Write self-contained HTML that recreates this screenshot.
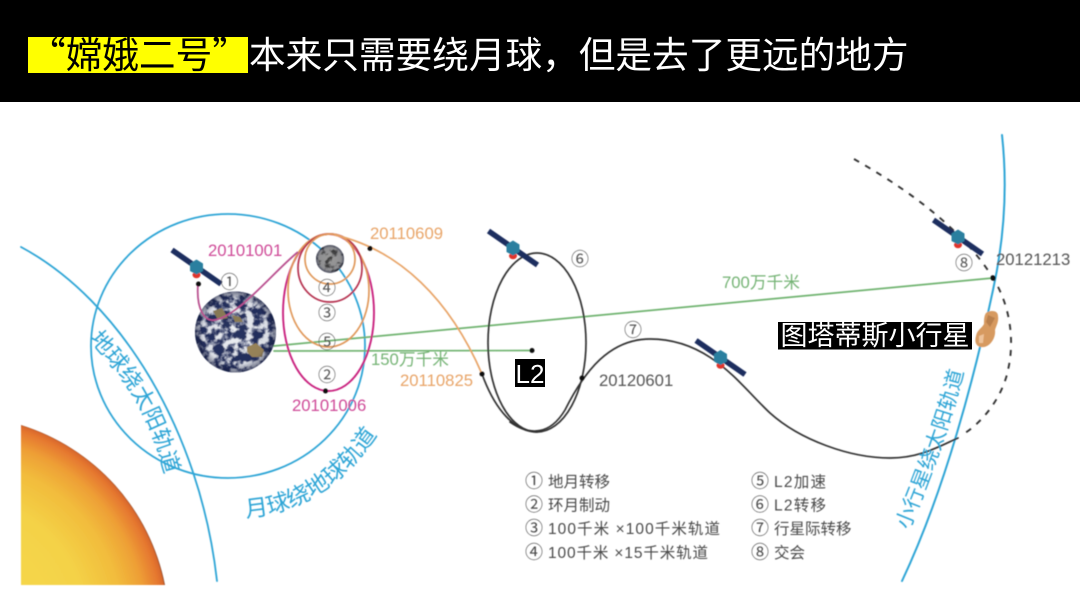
<!DOCTYPE html>
<html lang="zh-CN"><head><meta charset="utf-8">
<style>
html,body{margin:0;padding:0;background:#fff;width:1080px;height:597px;overflow:hidden}
svg{display:block}
.c{font-family:"Noto Sans CJK SC",sans-serif}
.l{font-family:"Liberation Sans","Noto Sans CJK SC",sans-serif}
.n{font-family:"Noto Sans CJK SC",sans-serif;font-size:18px;fill:#555;text-anchor:middle}
.leg{font-family:"Liberation Sans","Noto Sans CJK SC",sans-serif;font-size:15.5px;fill:#4a4a4a}
.cn{font-size:18px}
.blue{font-family:"Noto Sans CJK SC",sans-serif;fill:#2fa5d6}
</style></head><body>
<svg width="1080" height="597" viewBox="0 0 1080 597" xmlns="http://www.w3.org/2000/svg">
<defs>
<radialGradient id="sun" gradientUnits="userSpaceOnUse" cx="-41" cy="625" r="210">
<stop offset="0" stop-color="#f6dc50"/><stop offset=".6" stop-color="#f4d247"/><stop offset=".78" stop-color="#f2bc3c"/><stop offset=".89" stop-color="#ee9f36"/><stop offset=".97" stop-color="#e5772f"/><stop offset=".993" stop-color="#d9682c"/><stop offset="1" stop-color="#6a3a2c"/>
</radialGradient>
<radialGradient id="limb" cx=".5" cy=".5" r=".5">
<stop offset="0" stop-color="#000" stop-opacity="0"/><stop offset=".8" stop-color="#0a1030" stop-opacity=".08"/><stop offset="1" stop-color="#0a1030" stop-opacity=".55"/>
</radialGradient>
<filter id="clouds" x="0" y="0" width="100%" height="100%" color-interpolation-filters="sRGB">
<feTurbulence type="fractalNoise" baseFrequency=".13" numOctaves="5" seed="11"/>
<feColorMatrix values="0 0 0 0 .93  0 0 0 0 .94  0 0 0 0 .96  4.500 0 0 0 -1.900"/>
<feGaussianBlur stdDeviation=".35"/>
</filter>
<filter id="maria" x="0" y="0" width="100%" height="100%" color-interpolation-filters="sRGB">
<feTurbulence type="fractalNoise" baseFrequency=".16" numOctaves="3" seed="8"/>
<feColorMatrix values="0 0 0 0 .25  0 0 0 0 .25  0 0 0 0 .25  6 0 0 0 -3.100"/>
</filter>
<filter id="b0"><feGaussianBlur stdDeviation=".45"/></filter>
<clipPath id="ec"><circle cx="235.500" cy="332" r="40.500"/></clipPath>
<clipPath id="mc"><circle cx="330" cy="259" r="14"/></clipPath>
<g id="sat">
<path d="M-24.500 -17 L24.500 17" stroke="#1f2d5e" stroke-width="5.500"/>
<ellipse cx="0" cy="8" rx="4" ry="3.200" fill="#e0352b"/>
<path d="M0 -7.500 L6.500 -3.500 L6.500 4 L0 7.500 L-6.500 4 L-6.500 -3.500Z" fill="#2b7f9f"/>
</g>
</defs>

<rect width="1080" height="597" fill="#fff"/>

<g filter="url(#b0)">
<!-- sun -->
<path d="M21 425 A210 210 0 0 1 165 585 L21 585 Z" fill="url(#sun)"/>

<g fill="none" stroke-linecap="round">
<!-- blue orbits -->
<path d="M21 247 C120 300 200 430 217 581" stroke="#2fa5d6" stroke-width="1.800"/>
<ellipse cx="228" cy="346" rx="137" ry="132" stroke="#2fa5d6" stroke-width="1.800"/>
<path d="M1002 135 C1008 190 1004 240 993 290 C975 375 945 490 902 581" stroke="#2fa5d6" stroke-width="2"/>

<!-- green lines -->
<path d="M274 346 L993 278" stroke="#6fb36f" stroke-width="1.700"/>
<path d="M274 351 L532 350.500" stroke="#6fb36f" stroke-width="1.700"/>

<!-- lunar orbits -->
<ellipse cx="328.500" cy="312.500" rx="45.500" ry="78.500" stroke="#c9247f" stroke-width="1.900"/>
<ellipse cx="328.500" cy="290.500" rx="40.500" ry="56.500" stroke="#e0985a" stroke-width="1.700"/>
<ellipse cx="330" cy="268" rx="32" ry="34" stroke="#b5304f" stroke-width="1.700"/>
<ellipse cx="330" cy="259" rx="25" ry="25" stroke="#e0985a" stroke-width="1.700"/>

<!-- transfer -->
<path d="M335 235 C400 250 450 300 482 374" stroke="#e8a468" stroke-width="1.700"/>

<!-- L2 orbit -->
<ellipse cx="537" cy="342.500" rx="49" ry="89.500" stroke="#333" stroke-width="1.700"/>
<path d="M482 374 C495 410 515 432 537 432" stroke="#333" stroke-width="1.700"/>
<path d="M510 422 C530 436 550 435 565 410 C585 370 610 339 650 339 C710 339 740 385 770 413 C800 440 850 458 890 458 C920 458 940 446 958 438" stroke="#333" stroke-width="1.700"/>
<path d="M854 159 C900 185 960 225 993 278 C1010 305 1015 340 1008 370 C1003 395 985 420 965 433" stroke="#333" stroke-width="1.900" stroke-dasharray="6 7" stroke-linecap="butt"/>
</g>

<!-- earth -->
<circle cx="235.500" cy="332" r="40.500" fill="#26315f"/>
<g clip-path="url(#ec)">
<rect x="195" y="291" width="82" height="82" filter="url(#clouds)"/>
<path d="M247 347 L256 343 L264 350 L262 357 L252 357 L247 352Z" fill="#a08a5c"/>
<path d="M213 311 L222 308 L228 318 L218 320Z" fill="#8f8057"/>
<path d="M232 315 L240 317 L243 322 L235 322Z" fill="#8f8057"/>
</g>
<circle cx="235.500" cy="332" r="40.500" fill="url(#limb)"/>
<path d="M198 284 C196 310 205 322 215 320 C240 315 275 270 298 252" fill="none" stroke="#b9508f" stroke-width="1.800"/>

<!-- moon -->
<circle cx="330" cy="259" r="14" fill="#9a9a9a"/>
<g clip-path="url(#mc)"><rect x="316" y="245" width="28" height="28" filter="url(#maria)"/></g>
<circle cx="330" cy="259" r="14" fill="url(#limb)"/>

<!-- asteroid -->
<path d="M986 313 C990 310 998 310 998 316 C999 322 996 326 995 330 C996 337 991 346 984 347 C977 348 974 343 976 336 C977 330 982 328 984 324 C984 320 984 316 986 313Z" fill="#d79a60"/>
<path d="M988 315 L995 318 L990 327 L986 322Z" fill="#b9804e"/>
<path d="M979 336 L984 334 L983 343 L979 343Z" fill="#eec39a"/>

<!-- satellites -->
<use href="#sat" transform="translate(196.500 267)"/>
<use href="#sat" transform="translate(513 248)"/>
<use href="#sat" transform="translate(720.500 357.500)"/>
<use href="#sat" transform="translate(958 237)"/>

<!-- dots -->
<g fill="#111">
<circle cx="198.500" cy="284" r="2.500"/><circle cx="325.500" cy="391" r="2.500"/><circle cx="370" cy="248.500" r="2.500"/>
<circle cx="482" cy="374" r="2.500"/><circle cx="582" cy="378" r="2.500"/><circle cx="532" cy="350.500" r="2.500"/><circle cx="993" cy="278" r="2.700"/>
</g>

<!-- labels -->
<g class="l" font-size="16.700">
<text x="208" y="256" fill="#cf4a97">20101001</text>
<text x="292" y="411" fill="#cf4a97">20101006</text>
<text x="370" y="239" fill="#e8a468">20110609</text>
<text x="400" y="386" fill="#e8a468">20110825</text>
<text x="599" y="386" fill="#555">20120601</text>
<text x="996" y="265" fill="#555">20121213</text>
<text x="371" y="365" fill="#74b374">150万千米</text>
<text x="722" y="288" fill="#74b374">700万千米</text>
</g>

<text class="n" x="229.500" y="288.500">①</text>
<text class="n" x="327" y="294.500">④</text>
<text class="n" x="327" y="319.500">③</text>
<text class="n" x="327" y="348.500">⑤</text>
<text class="n" x="327" y="381.500">②</text>
<text class="n" x="580" y="265.500">⑥</text>
<text class="n" x="633" y="336.500">⑦</text>
<text class="n" x="964" y="269.500">⑧</text>

<!-- curved labels -->
<path id="p1" d="M89 339 C110 365 145 395 164 472" fill="none"/>
<path id="p2" d="M246 517 Q330 512 384 424" fill="none"/>
<path id="p3" d="M909 530 C925 490 950 430 966 362" fill="none"/>
<text class="blue" font-size="22.500"><textPath href="#p1" startOffset="0">地球绕太阳轨道</textPath></text>
<text class="blue" font-size="23"><textPath href="#p2" startOffset="0">月球绕地球轨道</textPath></text>
<text class="blue" font-size="21"><textPath href="#p3" startOffset="0">小行星绕太阳轨道</textPath></text>

<!-- legend -->
<g class="leg">
<text class="cn" x="525" y="487.500">①</text><text x="548" y="487">地月转移</text>
<text class="cn" x="525" y="511">②</text><text x="548" y="510.500">环月制动</text>
<text class="cn" x="525" y="534.500">③</text><text x="548" y="534" textLength="172" lengthAdjust="spacing">100千米 ×100千米轨道</text>
<text class="cn" x="525" y="558.500">④</text><text x="548" y="558" textLength="160" lengthAdjust="spacing">100千米 ×15千米轨道</text>
<text class="cn" x="751" y="487.500">⑤</text><text x="774" y="487" textLength="52" lengthAdjust="spacing">L2加速</text>
<text class="cn" x="751" y="511">⑥</text><text x="774" y="510.500" textLength="52" lengthAdjust="spacing">L2转移</text>
<text class="cn" x="751" y="534.500">⑦</text><text x="774" y="534">行星际转移</text>
<text class="cn" x="751" y="558.500">⑧</text><text x="774" y="558">交会</text>
</g>
</g>

<!-- black labels -->
<rect x="515" y="359" width="30" height="28" fill="#000"/>
<text class="l" x="530" y="383" font-size="26" fill="#fff" text-anchor="middle">L2</text>
<rect x="778" y="322" width="194" height="27.500" fill="#000"/>
<text class="c" x="875" y="345" font-size="27" fill="#fff" text-anchor="middle">图塔蒂斯小行星</text>

<!-- header -->
<rect width="1080" height="102" fill="#000"/>
<rect x="28" y="37" width="220" height="36" fill="#ffff00"/>
<text class="c" x="29" y="68" font-size="36.650" fill="#000">“嫦娥二号”</text>
<text class="c" x="249" y="68" font-size="36.650" fill="#fff">本来只需要绕月球，但是去了更远的地方</text>
</svg>
</body></html>
